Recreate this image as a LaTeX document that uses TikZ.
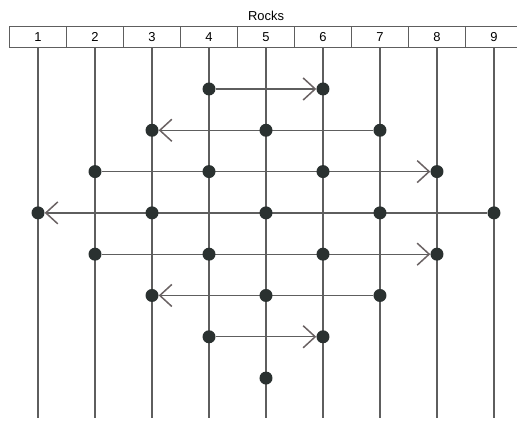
\documentclass[tikz,border=0pt]{standalone}
\usepackage{fontspec}
\setmainfont{Liberation Sans}
\usetikzlibrary{arrows.meta,backgrounds}
\definecolor{Wire}{HTML}{5E5E5E}
\definecolor{Barb}{HTML}{6A6263}
\definecolor{Stone}{HTML}{2A3130}
\tikzset{
  cell/.style={draw=Wire,line width=1.1bp,minimum width=57bp,minimum height=21bp,inner sep=0pt,font=\fontsize{13}{13}\selectfont},
  rock/.style={circle,fill=Stone,minimum size=13bp,inner sep=0pt},
  track/.style={draw=Wire,line width=1.3bp},
  toss/.style={draw=Wire,line width=1.3bp,-{Straight Barb[length=12bp,width=22bp,line width=1.5bp,color=Barb]}}
}
\begin{document}
\begin{tikzpicture}[x=57bp,y=-41.3bp]
  \useasboundingbox (0.333,-1.155) rectangle (9.404,9.063);
  \node[font=\fontsize{13}{13}\selectfont] (title) at (5,-0.78) {Rocks};
  \foreach \i in {1,...,9} {
    \node[cell] (c\i) at (\i,-0.25) {\i};
    \coordinate (b\i) at (\i,8.96);
  }
  % rocks on each row
  \foreach \r/\cols in {1/{4,6},2/{3,5,7},3/{2,4,6,8},4/{1,3,5,7,9},5/{2,4,6,8},6/{3,5,7},7/{4,6},8/{5}} {
    \foreach \c in \cols {\node[rock] (d\r\c) at (\c,\r) {};}
  }
  \begin{scope}[on background layer]
    \foreach \i in {1,...,9} {\draw[track] (c\i.south) -- (b\i);}
    \draw[toss] (d14) -- (d16);
    \draw[toss] (d27) -- (d23);
    \draw[toss] (d32) -- (d38);
    \draw[toss] (d49) -- (d41);
    \draw[toss] (d52) -- (d58);
    \draw[toss] (d67) -- (d63);
    \draw[toss] (d74) -- (d76);
  \end{scope}
\end{tikzpicture}
\end{document}
